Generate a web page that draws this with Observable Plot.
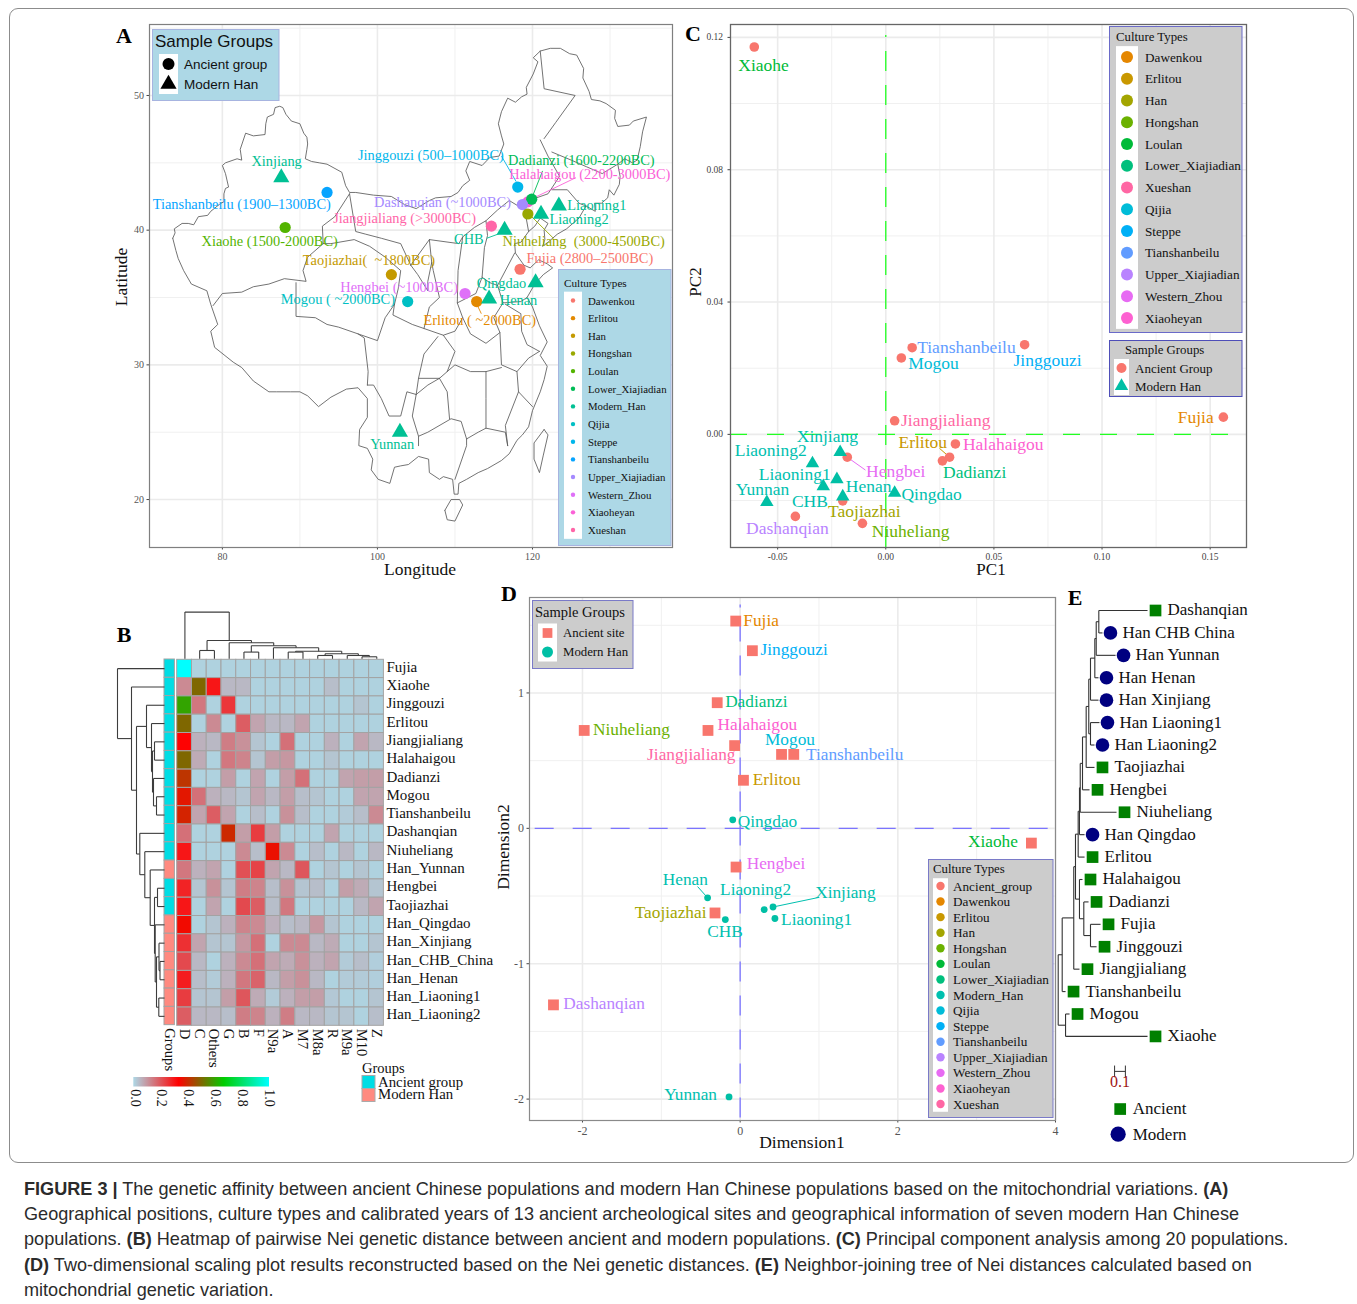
<!DOCTYPE html>
<html><head><meta charset="utf-8">
<script src="https://cdn.jsdelivr.net/npm/d3@7"></script>
<script src="https://cdn.jsdelivr.net/npm/@observablehq/plot@0.6"></script>
<style>
html,body{margin:0;padding:0;background:#fff;width:1357px;height:1304px;overflow:hidden}
#root{position:relative;width:1357px;height:1304px}
.panel{position:absolute}
.panel svg{overflow:visible;max-width:none;background:transparent}
#overlay{position:absolute;left:0;top:0;pointer-events:none;z-index:10}
#frame{position:absolute;left:9px;top:8px;width:1345px;height:1155px;border:1px solid #8c8c8c;border-radius:9px;box-sizing:border-box}
#caption{position:absolute;left:24px;top:1177px;font:18.1px/25.2px "Liberation Sans",sans-serif;color:#2b2b2b;white-space:nowrap}
</style></head><body><div id="root"><div id="frame"></div>
<div id="caption"><b>FIGURE 3 |</b> The genetic affinity between ancient Chinese populations and modern Han Chinese populations based on the mitochondrial variations. <b>(A)</b><br>
Geographical positions, culture types and calibrated years of 13 ancient archeological sites and geographical information of seven modern Han Chinese<br>
populations. <b>(B)</b> Heatmap of pairwise Nei genetic distance between ancient and modern populations. <b>(C)</b> Principal component analysis among 20 populations.<br>
<b>(D)</b> Two-dimensional scaling plot results reconstructed based on the Nei genetic distances. <b>(E)</b> Neighbor-joining tree of Nei distances calculated based on<br>
mitochondrial genetic variation.</div>
</div>
<script>
// ---------- shared ----------
const siteCulture = {Fujia:"Dawenkou",Erlitou:"Erlitou",Taojiazhai:"Han",Niuheliang:"Hongshan",Xiaohe:"Loulan",Dadianzi:"Lower_Xiajiadian",Mogou:"Qijia",Jinggouzi:"Steppe",Tianshanbeilu:"Tianshanbeilu",Dashanqian:"Upper_Xiajiadian",Hengbei:"Western_Zhou",Halahaigou:"Xiaoheyan",Jiangjialiang:"Xueshan"};
const modernHan = ["Xinjiang","Liaoning1","Liaoning2","CHB","Qingdao","Henan","Yunnan"];
const cultureOf = n => siteCulture[n] || "Modern_Han";

// ---------- panel A ----------
const cultureA = ["Dawenkou","Erlitou","Han","Hongshan","Loulan","Lower_Xiajiadian","Modern_Han","Qijia","Steppe","Tianshanbeilu","Upper_Xiajiadian","Western_Zhou","Xiaoheyan","Xueshan"];
const coloursA = ["#F8766D","#E38900","#C49A00","#99A800","#53B400","#00BC56","#00C094","#00BFC4","#00B6EB","#06A4FF","#A58AFF","#DF70F8","#FB61D7","#FF66A8"];
const mapNames = ["Xinjiang","Tianshanbeilu","Xiaohe","Jinggouzi","Halahaigou","Dadianzi","Dashanqian","Niuheliang","Liaoning1","Liaoning2","Jiangjialiang","CHB","Fujia","Qingdao","Taojiazhai","Hengbei","Erlitou","Henan","Mogou","Yunnan"];
const mapLon = [87.6,93.5,88.1,118.1,119.4,119.9,118.7,119.4,123.4,121.1,114.7,116.4,118.4,120.4,101.8,111.3,112.8,114.4,103.9,102.9];
const mapLat = [43.9,42.8,40.2,43.2,42.1,42.3,41.9,41.2,41.8,41.2,40.3,40,37.1,36.1,36.7,35.3,34.7,34.9,34.7,25];
const mapLabelText = ["Xinjiang","Tianshanbeilu (1900–1300BC)","Xiaohe (1500-2000BC)","Jinggouzi (500–1000BC)","Halahaigou (2200-3000BC)","Dadianzi (1600-2200BC)","Dashanqian (~1000BC)","Niuheliang  (3000-4500BC)","Liaoning1","Liaoning2","Jiangjialiang (>3000BC)","CHB","Fujia (2800–2500BC)","Qingdao","Taojiazhai(  ~1800BC)","Hengbei (~1000BC)","Erlitou ( ~2000BC)","Henan","Mogou ( ~2000BC)","Yunnan"];
const mapLabelLon = [87.0,82.5,86.1,106.9,127.4,126.3,108.4,126.6,128.3,126,103.5,111.8,127.4,116,98.9,102.8,113.2,118.2,94.9,101.9];
const mapLabelLat = [45.14,41.92,39.17,45.57,44.17,45.17,42.07,39.17,41.82,40.82,40.87,39.32,37.92,36.07,37.72,35.77,33.27,34.82,34.87,24.07];
const mapLeaders = [["Jinggouzi",116,45.5,117.9,43.6],["Dadianzi",121.3,44.4,120.1,42.65],["Halahaigou",125.6,43.9,119.1,42.1],["Niuheliang",122.7,39.4,119.9,41],["CHB",114.1,39.4,116,39.8],["Erlitou",113.4,33.8,112.9,34.4]];

const chinaBorder = [[73.6,39.4],[73.9,39.8],[73.8,40.1],[74.8,40.5],[75.6,40.5],[76.3,40.4],[76.9,41],[78.1,41.1],[78.5,41.4],[79.8,42],[80.2,42.1],[80.2,42.7],[80.4,43.1],[80.8,43.2],[80.4,44.2],[80,44.8],[80.4,45],[81.9,45.3],[82.5,45.2],[82.3,46],[83,47.2],[84,47],[85.5,47.1],[85.6,47.9],[85.8,48.4],[86.6,48.6],[86.8,49.1],[87.4,49.2],[87.8,49.1],[88.2,48.6],[88.9,48.1],[90,47.9],[90.5,47.2],[90.9,46.9],[91,46.4],[90.9,46],[90.7,45.3],[91.5,45.1],[92.5,45],[93.5,44.9],[95.4,44.3],[95.9,43.3],[96.4,42.8],[97.2,42.8],[99.5,42.6],[101.8,42.5],[103.5,41.9],[105,41.6],[106.7,42.2],[107.5,42.4],[109.5,42.5],[110.4,42.8],[111,43.3],[111.9,43.7],[111.4,44.4],[111.9,45.1],[113.5,44.8],[114.5,45.4],[115.7,45.5],[116.3,46.4],[116,47],[115.6,47.9],[116,48.8],[116.8,49.8],[117.8,49.5],[118.6,49.9],[119.3,50.1],[119.2,50.6],[120.1,51.6],[120.7,52.5],[120.1,52.8],[121,53.3],[122.3,53.5],[123.6,53.5],[124.8,53.1],[125.7,53],[126.6,52],[126.5,51.3],[127.3,50.3],[127.6,49.7],[128.7,49.6],[129.5,49.4],[130.7,48.9],[130.6,48.3],[131,47.7],[132.5,47.8],[133,48.1],[134.7,48.4],[134.2,47.3],[133.9,46.2],[133.5,45.2],[132.9,45],[131.9,45.3],[131,44.9],[131.3,44],[131.2,43.4],[130.5,42.6],[129.9,43],[129.7,42.4],[128.9,42],[128,42],[128.1,41.4],[126.9,41.8],[126,40.9],[124.4,40.1],[123.2,39.7],[122,39.1],[121.3,38.8],[121.6,39.3],[121.5,40],[122,40.5],[121,40.9],[120.3,40.3],[119.5,39.9],[118.5,39.1],[117.7,39],[117.8,38.3],[118.9,37.4],[119.7,37.2],[120.8,37.8],[121.9,37.5],[122.6,37.2],[121.4,36.7],[120.3,36],[119.3,35],[120,34.3],[120.9,32.9],[121.9,31.7],[121,30.7],[121.9,29.9],[121.5,28.9],[121,28],[120,26.6],[119.5,25.4],[118.7,24.8],[118,24.4],[117,23.4],[116,22.9],[114.2,22.3],[113,22],[111.5,21.5],[110.5,21.2],[110.4,20.4],[109.9,20.4],[109.7,21.5],[108.5,21.7],[108,21.5],[106.7,22],[106.6,23],[105.3,23.2],[104,22.6],[103,22.5],[102.2,22.4],[101.6,21.2],[100.1,21.5],[99.2,22.2],[99.4,23],[98.7,23.8],[97.6,24],[97.7,25.2],[98.7,26.1],[98.7,27.5],[97.5,28.3],[96,28.2],[94,27.6],[92.4,26.9],[91,27.7],[90,28],[88.8,28],[87,28],[86,28],[84,28.8],[82.5,29.8],[81.4,30.2],[79,31.3],[78.5,32.5],[79.4,33],[78.5,34.5],[78,35.5],[76,36],[75,37],[74.3,37.9],[74,38.5],[73.6,39.4]];
const provinceLines = [
 [[78.8,34.4],[80,35.3],[82.5,35.4],[84,35.8],[86,36],[88,36.4],[90.8,36.2],[90.4,37],[91,38],[93,39],[92.9,40.3],[94.5,41],[96.4,42.7]],
 [[89.5,36.1],[89.5,33.6],[92,33.5],[93.5,33],[95,32.8],[97.5,32.3],[98.3,32],[98.8,29.5],[98.7,28.5]],
 [[93,39],[94,39],[97,39.3],[99,38.8],[101,38],[103,37],[102.7,35.7],[102.2,34.5],[101,33.5],[100,31.8],[97.5,32.3]],
 [[96.4,42.7],[97.2,39.9],[98.5,39.7],[100.5,39.4],[103,39],[104.3,37.4]],
 [[104.3,37.4],[106.7,39.3],[107,37.6],[106.5,36.2],[106.5,35.5],[105.2,36.7],[104.3,37.4]],
 [[111,39.5],[110.4,37],[110.3,34.6],[111,33.5],[110,32.5],[108.5,32.2],[106,32.7],[106.7,34.3],[108,35],[107.2,37],[107,37.6]],
 [[106.7,39.3],[110.5,39],[111,39.5],[112.5,40.2],[114,40.7],[114.2,39.6],[113.8,38.7],[113.5,36.5],[112.7,35.3],[110.3,34.6]],
 [[113.5,36.5],[114.5,36.1],[115.5,35.9],[116.2,34.6],[115,33.5],[115.8,32.4],[114,31.6],[112,32.3],[111,33.5]],
 [[114,40.7],[115.5,41.5],[117,42.2],[119,41.5],[119.5,39.9]],
 [[119,41.5],[120,42.3],[122,42.7],[123.5,44],[122,45.5],[121,46.7]],
 [[122.5,43],[124.5,43],[126,42],[126.9,41.8]],
 [[122.5,45.8],[125,45.2],[127,44.7],[129,44.2],[131,44.9]],
 [[121,53.3],[121.5,50.5],[125.5,50],[123,48],[121.5,46.8]],
 [[115.5,35.9],[117.7,38.3]],
 [[116.2,34.6],[118.5,34.7],[119.3,35]],
 [[116.5,34.5],[118.5,33.8],[118.6,32.5],[119.3,31.5],[120.9,31]],
 [[115.8,32.4],[116,30],[118,29.5],[119.5,30.5],[120.9,31]],
 [[118,29.5],[118.2,28],[120,26.9]],
 [[118.2,28],[116.5,25.5],[116.8,24]],
 [[116.8,24],[116.5,25],[114,25.3],[113,25],[111.5,24.5],[111.5,24],[110,21.5]],
 [[105.3,24],[105.3,24.7],[106.5,25],[109.5,26],[110.8,25.8],[111.5,24.5]],
 [[98.7,28.5],[99.5,28.5],[100.5,27.5],[101.5,26.2],[103,26.2],[103.8,28],[105,27.8],[104.5,26.2],[105.3,24.7]],
 [[105,27.8],[106.5,28.5],[108,29],[109,28],[109.3,26]],
 [[108,29],[109,29.5],[110,30],[112,29.5],[114,29.5],[116,29.8]],
 [[114,29.5],[114,27.5],[114,25.3]],
 [[108.5,32.2],[110,31],[109,29.5]],
 [[105.3,29],[106,30.8],[107.8,32.1]],
 [[105,27.8],[105.3,29],[108,29]],
 [[102.2,34.5],[102,33.7],[104.5,33],[106,32.7]],
 [[121.5,25.2],[122,24.8],[121.4,23.3],[120.9,22],[120.2,23],[120.2,24.2],[121.5,25.2]],
 [[108.7,19.2],[109.5,20],[110.6,20],[111,19.6],[110,18.4],[109,18.5],[108.7,19.2]]
];

// ---------- panel B ----------
const heatRows = ["Fujia","Xiaohe","Jinggouzi","Erlitou","Jiangjialiang","Halahaigou","Dadianzi","Mogou","Tianshanbeilu","Dashanqian","Niuheliang","Han_Yunnan","Hengbei","Taojiazhai","Han_Qingdao","Han_Xinjiang","Han_CHB_China","Han_Henan","Han_Liaoning1","Han_Liaoning2"];
const heatCols = ["D","C","Others","G","B","F","N9a","A","M7","M8a","R","M9a","M10","Z"];
const heatGroups = ["Ancient group","Ancient group","Ancient group","Ancient group","Ancient group","Ancient group","Ancient group","Ancient group","Ancient group","Ancient group","Ancient group","Modern Han","Ancient group","Ancient group","Modern Han","Modern Han","Modern Han","Modern Han","Modern Han","Modern Han"];
const heatValues = [
[1,.01,.01,.01,.01,.01,.01,.01,.01,.01,.01,.01,.01,.01],
[.12,.5,.3,.05,.05,.01,.01,.01,.01,.01,.04,.01,.01,.01],
[.6,.15,.01,.25,.01,.01,.01,.01,.01,.01,.01,.01,.03,.01],
[.5,.01,.12,.01,.19,.08,.05,.05,.08,.01,.01,.01,.01,.01],
[.33,.06,.05,.14,.11,.03,.01,.16,.01,.01,.06,.01,.08,.05],
[.5,.07,.01,.15,.13,.03,.09,.1,.01,.01,.03,.01,.01,.01],
[.42,.01,.01,.09,.01,.08,.01,.09,.16,.01,.01,.08,.09,.09],
[.37,.16,.06,.05,.03,.08,.05,.09,.04,.03,.01,.01,.08,.08],
[.39,.08,.19,.08,.01,.04,.01,.11,.04,.01,.01,.02,.04,.12],
[.16,.01,.01,.4,.09,.24,.09,.01,.01,.01,.08,.01,.01,.01],
[.3,.01,.01,.01,.12,.04,.36,.12,.01,.04,.01,.05,.01,.05],
[.15,.06,.08,.01,.21,.23,.08,.05,.2,.01,.03,.01,.03,.01],
[.28,.03,.11,.03,.14,.13,.04,.11,.03,.04,.01,.09,.07,.03],
[.3,.01,.08,.01,.22,.19,.04,.15,.01,.01,.01,.01,.05,.08],
[.35,.01,.03,.06,.13,.12,.06,.04,.05,.1,.03,.01,.01,.01],
[.26,.08,.03,.03,.1,.16,.01,.12,.12,.05,.07,.01,.01,.03],
[.22,.05,.01,.06,.12,.16,.08,.07,.11,.06,.08,.02,.04,.015],
[.29,.04,.02,.06,.15,.18,.05,.09,.11,.05,.01,.02,.02,.015],
[.24,.03,.03,.09,.2,.07,.02,.06,.09,.09,.025,.01,.01,.03],
[.19,.05,.05,.04,.14,.13,.06,.14,.05,.05,.03,.03,.01,.04]];
const rowTree = [47,"Fujia",[33,"Xiaohe",[28,
  [18,"Jinggouzi",[13,"Erlitou",[12,[10,"Jiangjialiang","Halahaigou"],[11,"Dadianzi",[8,"Mogou","Tianshanbeilu"]]]]],
  [24.7,[0,"Dashanqian"],[19.7,"Niuheliang",[14.3,"Han_Yunnan",[10,[7,"Hengbei","Taojiazhai"],[9.3,"Han_Qingdao",[8,[5.5,"Han_Xinjiang",[4.5,"Han_CHB_China","Han_Henan"]],[5.7,"Han_Liaoning1","Han_Liaoning2"]]]]]]]]]];
const colTree = [46.7,"D",[18.3,[8.3,"C","Others"],[16,"G",[13,[6.7,"B","F"],[11,"N9a",[7.5,[6.7,"A","M7"],[5,[3.3,"M8a","R"],[3.3,"M9a",[2,"M10","Z"]]]]]]]]];
const heatTicks = [0,.2,.4,.6,.8,1];

// ---------- panel C ----------
const pcNames = ["Xiaohe","Tianshanbeilu","Mogou","Jinggouzi","Jiangjialiang","Fujia","Halahaigou","Erlitou","Dadianzi","Hengbei","Taojiazhai","Dashanqian","Niuheliang","Xinjiang","Liaoning2","Liaoning1","Henan","Qingdao","CHB","Yunnan"];
const pc1 = [-.0608,.0122,.0072,.0642,.0041,.1561,.0322,.0295,.0262,-.0178,-.0199,-.0418,-.0108,-.0211,-.0339,-.0226,-.0289,.0041,-.0199,-.055];
const pc2 = [.1171,.0262,.0231,.0271,.0041,.0052,-.0029,-.0069,-.008,-.0069,-.0201,-.0248,-.0269,-.0054,-.0088,-.0136,-.0157,-.0177,-.0188,-.0205];
const pcLabelX = [-.0565,.0373,.0221,.0748,.0277,.1433,.0543,.0171,.0411,.0046,-.0099,-.0455,.0115,-.027,-.0532,-.0421,-.0079,.0212,-.0351,-.057];
const pcLabelY = [.1115,.0262,.0214,.0225,.0041,.0052,-.0029,-.0023,-.0116,-.0111,-.0234,-.0285,-.0294,-.0005,-.0047,-.0122,-.0157,-.0182,-.0204,-.0166];
const pcLeaders = [["Hengbei",-.0178,-.0069,-.0094,-.0108],["Erlitou",.0248,-.0042,.0295,-.0069]];
const cultureC = ["Dawenkou","Erlitou","Han","Hongshan","Loulan","Lower_Xiajiadian","Xueshan","Qijia","Steppe","Tianshanbeilu","Upper_Xiajiadian","Western_Zhou","Xiaoheyan"];
const coloursC = ["#E58700","#C99800","#A3A500","#6BB100","#00BA38","#00BF7D","#FF67A4","#00BCD8","#00B0F6","#619CFF","#B983FF","#E76BF3","#FD61D1"];

// ---------- panel D ----------
const mdsNames = ["Fujia","Jinggouzi","Dadianzi","Niuheliang","Halahaigou","Jiangjialiang","Mogou","Tianshanbeilu","Erlitou","Xiaohe","Hengbei","Taojiazhai","Dashanqian","Qingdao","Henan","CHB","Liaoning2","Xinjiang","Liaoning1","Yunnan"];
const dim1 = [-.056,.155,-.291,-1.978,-.408,-.07,.525,.68,.042,3.694,-.052,-.319,-2.368,-.094,-.413,-.188,.305,.417,.441,-.141];
const dim2 = [1.531,1.312,.928,.723,.723,.611,.546,.546,.355,-.109,-.286,-.625,-1.304,.063,-.513,-.674,-.6,-.581,-.666,-1.984];
const mdsLabelX = [.266,.684,.205,-1.379,.219,-.62,.632,1.452,.463,3.206,.454,-.882,-1.726,.346,-.695,-.193,.196,1.335,.97,-.629];
const mdsLabelY = [1.538,1.319,.937,.73,.768,.547,.659,.547,.362,-.097,-.26,-.618,-1.295,.051,-.375,-.765,-.454,-.473,-.675,-1.963];
const mdsLeaders = [["Henan",-.54,-.43,-.413,-.513],["Xinjiang",1.0,-.51,.417,-.581]];
const cultureD = ["Ancient_group","Dawenkou","Erlitou","Han","Hongshan","Loulan","Lower_Xiajiadian","Modern_Han","Qijia","Steppe","Tianshanbeilu","Upper_Xiajiadian","Western_Zhou","Xiaoheyan","Xueshan"];
const coloursD = ["#F8766D","#E58700","#C99800","#A3A500","#6BB100","#00BA38","#00BF7D","#00C0AF","#00BCD8","#00B0F6","#619CFF","#B983FF","#E76BF3","#FD61D1","#FF67A4"];

// ---------- panel E ----------
const treeRows = ["Dashanqian","Han CHB China","Han Yunnan","Han Henan","Han Xinjiang","Han Liaoning1","Han Liaoning2","Taojiazhai","Hengbei","Niuheliang","Han Qingdao","Erlitou","Halahaigou","Dadianzi","Fujia","Jinggouzi","Jiangjialiang","Tianshanbeilu","Mogou","Xiaohe"];
const treeTips = [.827,.41,.531,.373,.373,.382,.336,.336,.29,.54,.244,.244,.225,.281,.392,.355,.197,.068,.105,.827];
const tree = [0,[.037,[.144,[.16,[.185,[.197,[.204,[.225,[.259,[.283,[.299,[.339,[.352,[.376,"Dashanqian","Han CHB China"],"Han Yunnan"],"Han Henan"],"Han Xinjiang"],[.299,"Han Liaoning1","Han Liaoning2"]],"Taojiazhai"],"Hengbei"],"Niuheliang"],"Han Qingdao"],"Erlitou"],[.197,"Halahaigou",[.237,"Dadianzi",[.299,"Fujia","Jinggouzi"]]]],"Jiangjialiang"],"Tianshanbeilu"],[.068,"Mogou","Xiaohe"]];

// ---------- helpers ----------
const SERIF = '"Liberation Serif","Times New Roman",serif';
const SANS = '"Liberation Sans",Arial,sans-serif';
const root = document.getElementById("root");
function place(plot,left,top){
  const d=document.createElement("div");d.className="panel";d.style.left=left+"px";d.style.top=top+"px";
  d.appendChild(plot);root.appendChild(d);
}
const overlay = d3.select(root).append("svg").attr("id","overlay").attr("width",1357).attr("height",1304);
function label(x,y,t,o={}){
  const e=overlay.append("text").attr("x",x).attr("y",y).text(t)
    .attr("font-family",o.font||SERIF).attr("font-size",o.size||17).attr("fill",o.fill||"#111")
    .attr("font-weight",o.weight||"normal").attr("text-anchor",o.anchor||"middle").attr("dominant-baseline","central");
  if(o.rotate) e.attr("transform",`rotate(${o.rotate} ${x} ${y})`);
  return e;
}
function marker(x,y,shape,r,fill){
  const t={circle:d3.symbolCircle,triangle:d3.symbolTriangle,square:d3.symbolSquare}[shape];
  overlay.append("path").attr("d",d3.symbol().type(t).size(Math.PI*r*r)()).attr("transform",`translate(${x},${y})`).attr("fill",fill);
}
function legendBox(o){
  overlay.append("rect").attr("x",o.x).attr("y",o.y).attr("width",o.w).attr("height",o.h).attr("fill",o.fill).attr("stroke",o.stroke).attr("stroke-width",1);
  label(o.titleX,o.titleY,o.title,{font:o.titleFont||SERIF,size:o.titleSize,anchor:"start",fill:"#111"});
  const step=o.ys.length>1?o.ys[1]-o.ys[0]:18;
  overlay.append("rect").attr("x",o.keyX).attr("y",o.ys[0]-step/2).attr("width",o.keyW).attr("height",step*o.ys.length).attr("fill","#fff");
  o.labels.forEach((l,i)=>{
    marker(o.keyX+o.keyW/2,o.ys[i],o.shapes?o.shapes[i]:"circle",o.r,o.colors[i]);
    label(o.textX,o.ys[i],l,{font:o.font||SERIF,size:o.size,anchor:"start",fill:"#111"});
  });
}
const seq=(a,b,n)=>d3.range(n).map(i=>a+(b-a)*i/(n-1));
function gridAxes(xMajor,xMinor,yMajor,yMinor,xFmt,yFmt,fs,fill,yPad=3){
  return [
    Plot.ruleX(xMinor,{stroke:"#f0f0f0",strokeWidth:1}),
    Plot.ruleY(yMinor,{stroke:"#f0f0f0",strokeWidth:1}),
    Plot.ruleX(xMajor,{stroke:"#ebebeb",strokeWidth:1.6}),
    Plot.ruleY(yMajor,{stroke:"#ebebeb",strokeWidth:1.6}),
    Plot.axisX(xMajor,{tickFormat:xFmt,label:null,tickSize:2.5,tickPadding:3,fontSize:fs,fontFamily:SERIF,fill:fill,stroke:"#444"}),
    Plot.axisY(yMajor,{tickFormat:yFmt,label:null,tickSize:2.5,tickPadding:yPad,fontSize:fs,fontFamily:SERIF,fill:fill,stroke:"#444"})
  ];
}
function treeSegments(node,leafPos,valueIsTip){
  const segs=[];
  (function walk(n){
    if(typeof n==="string") return {pos:leafPos(n),h:valueIsTip(n)};
    const kids=n.slice(1).map(walk);
    if(kids.length===1) return kids[0];
    const ps=kids.map(k=>k.pos),pos=d3.mean([d3.min(ps),d3.max(ps)]);
    segs.push({h1:n[0],h2:n[0],p1:d3.min(ps),p2:d3.max(ps)});
    kids.forEach(k=>segs.push({h1:n[0],h2:k.h,p1:k.pos,p2:k.pos}));
    return {pos,h:n[0]};
  })(node);
  return segs;
}

// ---------- A ----------
const mapRows = mapNames.map((n,i)=>({lon:mapLon[i],lat:mapLat[i],c:cultureOf(n),lx:mapLabelLon[i],ly:mapLabelLat[i],t:mapLabelText[i],modern:modernHan.includes(n)}));
const mapOutline = [chinaBorder,...provinceLines].flatMap((l,i)=>l.map(p=>({lon:p[0],lat:p[1],id:i})));
const mapLinks = mapLeaders.map(l=>({c:cultureOf(l[0]),x1:l[1],y1:l[2],x2:l[3],y2:l[4]}));
place(Plot.plot({
  width:580,height:570,marginLeft:49,marginRight:8,marginTop:14,marginBottom:33,
  x:{domain:[70.6,138.06]},y:{domain:[16.44,55.27]},
  color:{domain:cultureA,range:coloursA},
  marks:[
    ...gridAxes([80,100,120],[90,110,130],[20,30,40,50],[25,35,45,55],d=>d,d=>d,10,"#555"),
    Plot.line(mapOutline,{x:"lon",y:"lat",z:"id",stroke:"#5a5a5a",strokeWidth:.85,curve:"linear"}),
    Plot.link(mapLinks,{x1:"x1",y1:"y1",x2:"x2",y2:"y2",stroke:"c",strokeWidth:.9}),
    Plot.dot(mapRows.filter(d=>!d.modern),{x:"lon",y:"lat",fill:"c",r:5.6,symbol:"circle"}),
    Plot.dot(mapRows.filter(d=>d.modern),{x:"lon",y:"lat",fill:"c",r:6,symbol:"triangle"}),
    Plot.text(mapRows,{x:"lx",y:"ly",text:"t",fill:"c",fontSize:14.4,fontFamily:SERIF}),
    Plot.frame({stroke:"#7f7f7f",strokeWidth:1.2})
  ]}),100,10);

// ---------- B ----------
const heatData = heatRows.flatMap((r,i)=>heatCols.map((c,j)=>({r,c,v:heatValues[i][j]})));
const rowPos = n=>heatRows.indexOf(n)+.5, colPos = n=>heatCols.indexOf(n)+.5;
const rowSegs = treeSegments(rowTree,rowPos,()=>0), colSegs = treeSegments(colTree,colPos,()=>0);
const heatColor = {type:"linear",domain:[0,1/3,2/3,1],range:["#ADD8E6","#FF0000","#00CD00","#00FFFF"],interpolate:"rgb"};
place(Plot.plot({
  width:300,height:520,marginLeft:76.7,marginRight:16.6,marginTop:59.3,marginBottom:94.7,
  x:{domain:heatCols,padding:0,round:false},y:{domain:heatRows,padding:0,round:false},color:heatColor,
  marks:[
    Plot.cell(heatData,{x:"c",y:"r",fill:"v",stroke:"#a3a3a3",strokeWidth:1}),
    Plot.axisY({anchor:"right",tickSize:0,tickPadding:2.5,dy:-2,label:null,fontSize:15,fontFamily:SERIF,fill:"#111"}),
    Plot.axisX({anchor:"bottom",tickRotate:90,tickSize:0,tickPadding:3,label:null,fontSize:14.6,fontFamily:SERIF,fill:"#111"})
  ]}),100,600);
place(Plot.plot({
  width:10.4,height:366,margin:0,marginBottom:0,
  x:{domain:["Groups"],padding:0,round:false},y:{domain:heatRows,padding:0,round:false,axis:null},
  color:{domain:["Ancient group","Modern Han"],range:["#00DDE4","#FF8A80"]},
  marks:[
    Plot.cell(heatRows.map((r,i)=>({r,g:heatGroups[i]})),{x:()=>"Groups",y:"r",fill:"g",stroke:"#a3a3a3",strokeWidth:1}),
    Plot.axisX({anchor:"bottom",tickRotate:90,tickSize:0,tickPadding:3,label:null,fontSize:14.6,fontFamily:SERIF,fill:"#111"})
  ]}),164.3,659.3);
place(Plot.plot({width:54,height:366,margin:0,x:{domain:[54,0],axis:null},y:{domain:[0,20],reverse:true,axis:null},
  marks:[Plot.link(rowSegs,{x1:"h1",x2:"h2",y1:"p1",y2:"p2",stroke:"#3d3d3d",strokeWidth:1.1})]}),110,659.3);
place(Plot.plot({width:206.7,height:53.3,margin:0,x:{domain:[0,14],axis:null},y:{domain:[0,53.3],axis:null},
  marks:[Plot.link(colSegs,{x1:"p1",x2:"p2",y1:"h1",y2:"h2",stroke:"#3d3d3d",strokeWidth:1.1})]}),176.7,605);

// ---------- C ----------
const pcRows = pcNames.map((n,i)=>({x:pc1[i],y:pc2[i],lx:pcLabelX[i],ly:pcLabelY[i],n,c:cultureOf(n),modern:modernHan.includes(n)}));
const pcLinks = pcLeaders.map(l=>({c:cultureOf(l[0]),x1:l[1],y1:l[2],x2:l[3],y2:l[4]}));
place(Plot.plot({
  width:580,height:570,marginLeft:50,marginRight:14,marginTop:14,marginBottom:33,
  x:{domain:[-.0718,.1668]},y:{domain:[-.0342,.1239]},
  color:{domain:[...cultureC,"Modern_Han"],range:[...coloursC,"#00C0AF"]},
  marks:[
    ...gridAxes([-.05,0,.05,.1,.15],[-.025,.025,.075,.125],[0,.04,.08,.12],[-.02,.02,.06,.1],d=>d.toFixed(2),d=>d.toFixed(2),9.5,"#444",5),
    Plot.ruleX([0],{y1:-.0342,y2:.1206,stroke:"#22FF22",strokeWidth:1.3,strokeDasharray:"20,14"}),
    Plot.ruleY([0],{x1:-.0718,x2:.1645,stroke:"#22FF22",strokeWidth:1.3,strokeDasharray:"17,20"}),
    Plot.link(pcLinks,{x1:"x1",y1:"y1",x2:"x2",y2:"y2",stroke:"c",strokeWidth:1}),
    Plot.dot(pcRows.filter(d=>!d.modern),{x:"x",y:"y",fill:"#F8766D",r:4.8,symbol:"circle"}),
    Plot.dot(pcRows.filter(d=>d.modern),{x:"x",y:"y",fill:"#00BFA5",r:5,symbol:"triangle"}),
    Plot.text(pcRows,{x:"lx",y:"ly",text:"n",fill:"c",fontSize:17.5,fontFamily:SERIF}),
    Plot.frame({stroke:"#666",strokeWidth:1.3})
  ]}),680,10);

// ---------- D ----------
const mdsRows = mdsNames.map((n,i)=>({x:dim1[i],y:dim2[i],lx:mdsLabelX[i],ly:mdsLabelY[i],n,c:cultureOf(n),modern:modernHan.includes(n)}));
const mdsLinks = mdsLeaders.map(l=>({c:cultureOf(l[0]),x1:l[1],y1:l[2],x2:l[3],y2:l[4]}));
place(Plot.plot({
  width:580,height:560,marginLeft:39,marginRight:15,marginTop:17,marginBottom:20,
  x:{domain:[-2.672,4]},y:{domain:[-2.158,1.705]},
  color:{domain:cultureD,range:coloursD},
  marks:[
    ...gridAxes([-2,0,2,4],[-1,1,3],[-2,-1,0,1],[-1.5,-.5,.5,1.5],d=>String(d),d=>String(d),12,"#555"),
    Plot.ruleX([0],{y1:-2.14,y2:1.65,stroke:"#7B74FF",strokeWidth:1.3,strokeDasharray:"20,14"}),
    Plot.ruleY([0],{x1:-2.6,x2:3.95,stroke:"#7B74FF",strokeWidth:1.3,strokeDasharray:"19,19"}),
    Plot.link(mdsLinks,{x1:"x1",y1:"y1",x2:"x2",y2:"y2",stroke:"c",strokeWidth:1}),
    Plot.dot(mdsRows.filter(d=>!d.modern),{x:"x",y:"y",fill:"#F8766D",r:6.1,symbol:"square"}),
    Plot.dot(mdsRows.filter(d=>d.modern),{x:"x",y:"y",fill:"#00BFA5",r:3.4,symbol:"circle"}),
    Plot.text(mdsRows,{x:"lx",y:"ly",text:"n",fill:"c",fontSize:17.3,fontFamily:SERIF}),
    Plot.frame({stroke:"#8a8a8a",strokeWidth:1.2})
  ]}),490,580);

// ---------- E ----------
const treeIdx = n=>treeRows.indexOf(n);
const treeSegs = treeSegments(tree,treeIdx,n=>treeTips[treeIdx(n)]);
const treeData = treeRows.map((n,i)=>({n,i,tip:treeTips[i],modern:n.startsWith("Han")}));
const scaleBar = [{x1:.522,x2:.622,y1:20.56,y2:20.56},{x1:.522,x2:.522,y1:20.3,y2:20.82},{x1:.622,x2:.622,y1:20.3,y2:20.82}];
const treeKey = [{t:"Ancient",i:22.24,x:.574,modern:false},{t:"Modern",i:23.36,x:.555,modern:true}];
place(Plot.plot({
  width:210,height:560,marginLeft:0,marginRight:0,marginTop:20,marginBottom:2,
  x:{domain:[-.0713,1.873],axis:null},y:{domain:[0,24],reverse:true,axis:null},
  marks:[
    Plot.link(treeSegs,{x1:"h1",x2:"h2",y1:"p1",y2:"p2",stroke:"#333",strokeWidth:1.1}),
    Plot.dot(treeData.filter(d=>!d.modern),{x:"tip",y:"i",dx:8,fill:"#008000",r:6.6,symbol:"square"}),
    Plot.dot(treeData.filter(d=>d.modern),{x:"tip",y:"i",dx:8,fill:"#000080",r:6.8,symbol:"circle"}),
    Plot.text(treeData,{x:"tip",y:"i",dx:20,dy:-.5,text:"n",textAnchor:"start",fontSize:17,fontFamily:SERIF,fill:"#111"}),
    Plot.link(scaleBar,{x1:"x1",x2:"x2",y1:"y1",y2:"y2",stroke:"#333",strokeWidth:1}),
    Plot.text(["0.1"],{x:()=>.572,y:()=>21.05,text:d=>d,fontSize:16,fontFamily:SERIF,fill:"#A01515"}),
    Plot.dot(treeKey.filter(d=>!d.modern),{x:"x",y:"i",fill:"#008000",r:6.6,symbol:"square"}),
    Plot.dot(treeKey.filter(d=>d.modern),{x:"x",y:"i",fill:"#000080",r:7.6,symbol:"circle"}),
    Plot.text(treeKey,{x:()=>.69,y:"i",text:"t",textAnchor:"start",fontSize:17,fontFamily:SERIF,fill:"#111"})
  ]}),1050,590);

// ---------- titles, panel letters, legends ----------
[["A",124,35],["C",693,33],["B",124,634],["D",509,593],["E",1075,597]].forEach(l=>label(l[1],l[2],l[0],{size:22,weight:"bold",fill:"#000"}));
label(420,569,"Longitude",{size:17.5});
label(121,277,"Latitude",{size:17.5,rotate:-90});
label(991,569,"PC1",{size:17});
label(695,282,"PC2",{size:17,rotate:-90});
label(802,1142,"Dimension1",{size:17.5});
label(503,847,"Dimension2",{size:17.5,rotate:-90});

legendBox({x:152.5,y:29.5,w:126.5,h:71,fill:"#ADD8E6",stroke:"#A7B4E0",title:"Sample Groups",titleX:155,titleY:41,titleFont:SANS,titleSize:17,
  keyX:159,keyW:19,ys:[64,84],labels:["Ancient group","Modern Han"],colors:["#000","#000"],shapes:["circle","triangle"],r:6,textX:184,font:SANS,size:13.5});
legendBox({x:558.5,y:269.5,w:112.5,h:276,fill:"#ADD8E6",stroke:"#A7B4E0",title:"Culture Types",titleX:564,titleY:283,titleSize:11.2,
  keyX:564,keyW:18,ys:seq(300.5,530,14),labels:cultureA,colors:coloursA,r:2.2,textX:588,size:10.8});
legendBox({x:1109.5,y:26.5,w:132.5,h:306,fill:"#CCCCCC",stroke:"#6A6AC8",title:"Culture Types",titleX:1116,titleY:36.5,titleSize:12.8,
  keyX:1116,keyW:22,ys:seq(57,318,13),labels:cultureC,colors:coloursC,r:6,textX:1145,size:13.2});
legendBox({x:1109.5,y:340.5,w:132.5,h:56,fill:"#CCCCCC",stroke:"#4E4EB8",title:"Sample Groups",titleX:1125,titleY:350,titleSize:12.8,
  keyX:1114,keyW:15,ys:[368,386],labels:["Ancient Group","Modern Han"],colors:["#F8766D","#00BFA5"],shapes:["circle","triangle"],r:5,textX:1135,size:13});
legendBox({x:532.5,y:600.5,w:100.5,h:68,fill:"#CCCCCC",stroke:"#7A7AC8",title:"Sample Groups",titleX:535,titleY:612,titleSize:14.5,
  keyX:538,keyW:19,ys:[633,652],labels:["Ancient site","Modern Han"],colors:["#F8766D","#00BFA5"],shapes:["square","circle"],r:5.5,textX:563,size:12.8});
legendBox({x:928.5,y:859.5,w:124.5,h:258,fill:"#CCCCCC",stroke:"#7A7AC8",title:"Culture Types",titleX:933,titleY:869,titleSize:12.8,
  keyX:933,keyW:15,ys:seq(886,1104,15),labels:cultureD,colors:coloursD,r:4.2,textX:953,size:13.2});

// heat colour bar
const grad = overlay.append("defs").append("linearGradient").attr("id","heatGrad");
[[0,"#ADD8E6"],[1/3,"#FF0000"],[2/3,"#00CD00"],[1,"#00FFFF"]].forEach(s=>grad.append("stop").attr("offset",s[0]).attr("stop-color",s[1]));
overlay.append("rect").attr("x",133.3).attr("y",1077).attr("width",135.7).attr("height",9.5).attr("fill","url(#heatGrad)");
heatTicks.forEach(v=>label(135+v*134.5,1098,v.toFixed(1),{size:14,rotate:90}));
label(362,1068,"Groups",{size:14.5,anchor:"start"});
overlay.append("rect").attr("x",362).attr("y",1075.5).attr("width",13).attr("height",13).attr("fill","#00DDE4").attr("stroke","#aaa");
overlay.append("rect").attr("x",362).attr("y",1088.5).attr("width",13).attr("height",13).attr("fill","#FF8A80").attr("stroke","#aaa");
label(378,1081.5,"Ancient group",{size:14.8,anchor:"start"});
label(378,1094,"Modern Han",{size:14.8,anchor:"start"});
</script></body></html>
